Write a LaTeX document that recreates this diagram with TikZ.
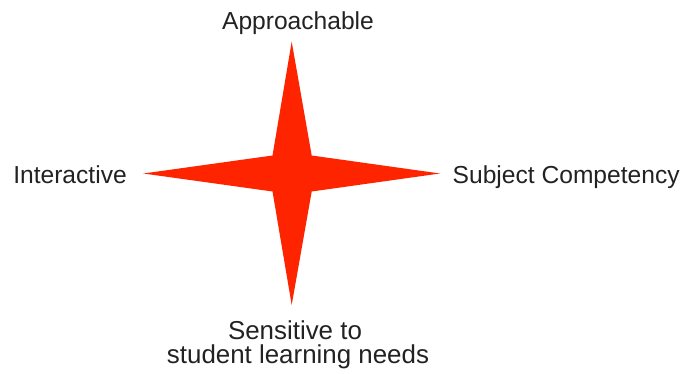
\documentclass[tikz,border=0pt]{standalone}
\usepackage{fontspec}
\setmainfont{Liberation Sans}
\definecolor{starred}{RGB}{255,36,0}
\definecolor{labelgray}{RGB}{34,34,34}
\begin{document}
\begin{tikzpicture}[x=1pt,y=-1pt,
  lbl/.style={inner sep=0pt, anchor=base, text=labelgray, font=\fontsize{24.6}{26}\selectfont},
  lblb/.style={lbl, font=\fontsize{25.9}{27}\selectfont}]
\useasboundingbox (0,0) rectangle (687,374);
\fill[starred] (291.7,41.7) -- (311.7,155.5) -- (440,173.5) -- (311.7,191.5)
  -- (291.7,305) -- (272.5,191.5) -- (143.3,173.5) -- (272.5,155.5) -- cycle;
\node[lbl] (appr) at (298,30) {Approachable};
\node[lbl] (inter) at (70,183) {Interactive};
\node[lbl, anchor=base west] (subj) at (452.5,183.3) {Subject Competency};
\node[lblb] (sens1) at (295,339) {Sensitive to};
\node[lblb] (sens2) at (298,363) {student learning needs};
\end{tikzpicture}
\end{document}
